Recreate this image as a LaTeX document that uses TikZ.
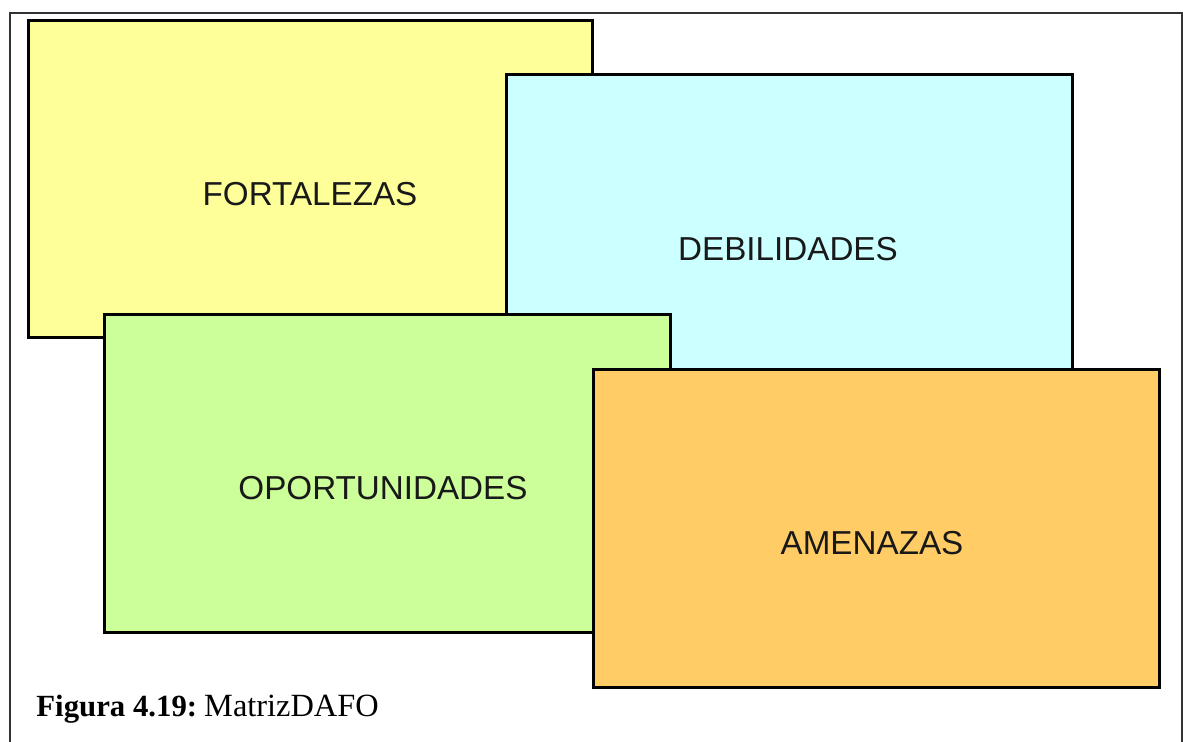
\documentclass[tikz,border=0pt]{standalone}
\usepackage{fontspec}
\setmainfont{Liberation Serif}
\newfontfamily\boxfont{Liberation Sans}
\definecolor{cYel}{HTML}{FFFF99}
\definecolor{cCya}{HTML}{CCFFFF}
\definecolor{cGre}{HTML}{CCFF99}
\definecolor{cOra}{HTML}{FFCC66}
\definecolor{frameGray}{HTML}{333333}
\tikzset{
  dafobox/.style={draw=black, line width=1.5pt, rectangle, anchor=north west, inner sep=0pt, outer sep=0pt},
  dafotext/.style={font=\boxfont\fontsize{16.6}{18}\selectfont, text=black!90, inner sep=0pt},
}
\begin{document}
\begin{tikzpicture}[x=0.5pt,y=-0.5pt]
\useasboundingbox (0,0) rectangle (1183,742);
\fill[white] (0,0) rectangle (1183,742);
% outer frame
\coordinate (fbl) at (9.5,745);
\coordinate (ftl) at (9.5,13.5);
\coordinate (ftr) at (1181.5,13.5);
\coordinate (fbr) at (1181.5,745);
\draw[frameGray, line width=1pt] (fbl) -- (ftl) -- (ftr) -- (fbr);
% boxes
\node[dafobox, fill=cYel, minimum width=282pt, minimum height=158.5pt] (fort) at (28.5,21) {};
\node[dafobox, fill=cCya, minimum width=283pt, minimum height=147.5pt] (deb) at (506,75) {};
\node[dafobox, fill=cGre, minimum width=283pt, minimum height=158.5pt] (opo) at (104,315) {};
\node[dafobox, fill=cOra, minimum width=283pt, minimum height=158.5pt] (ame) at (593,370) {};
% labels
\node[dafotext] (fortT) at (310,194) {FORTALEZAS};
\node[dafotext] (debT) at (788,249) {DEBILIDADES};
\node[dafotext] (opoT) at (383,488) {OPORTUNIDADES};
\node[dafotext] (ameT) at (872,543) {AMENAZAS};
% caption
\node[anchor=base west, inner sep=0pt, font=\fontsize{16.2}{18}\selectfont] (cap) at (36,716) {{\fontsize{15.4}{18}\selectfont\bfseries Figura 4.19:}\hspace{3.5pt}MatrizDAFO};
\end{tikzpicture}
\end{document}
